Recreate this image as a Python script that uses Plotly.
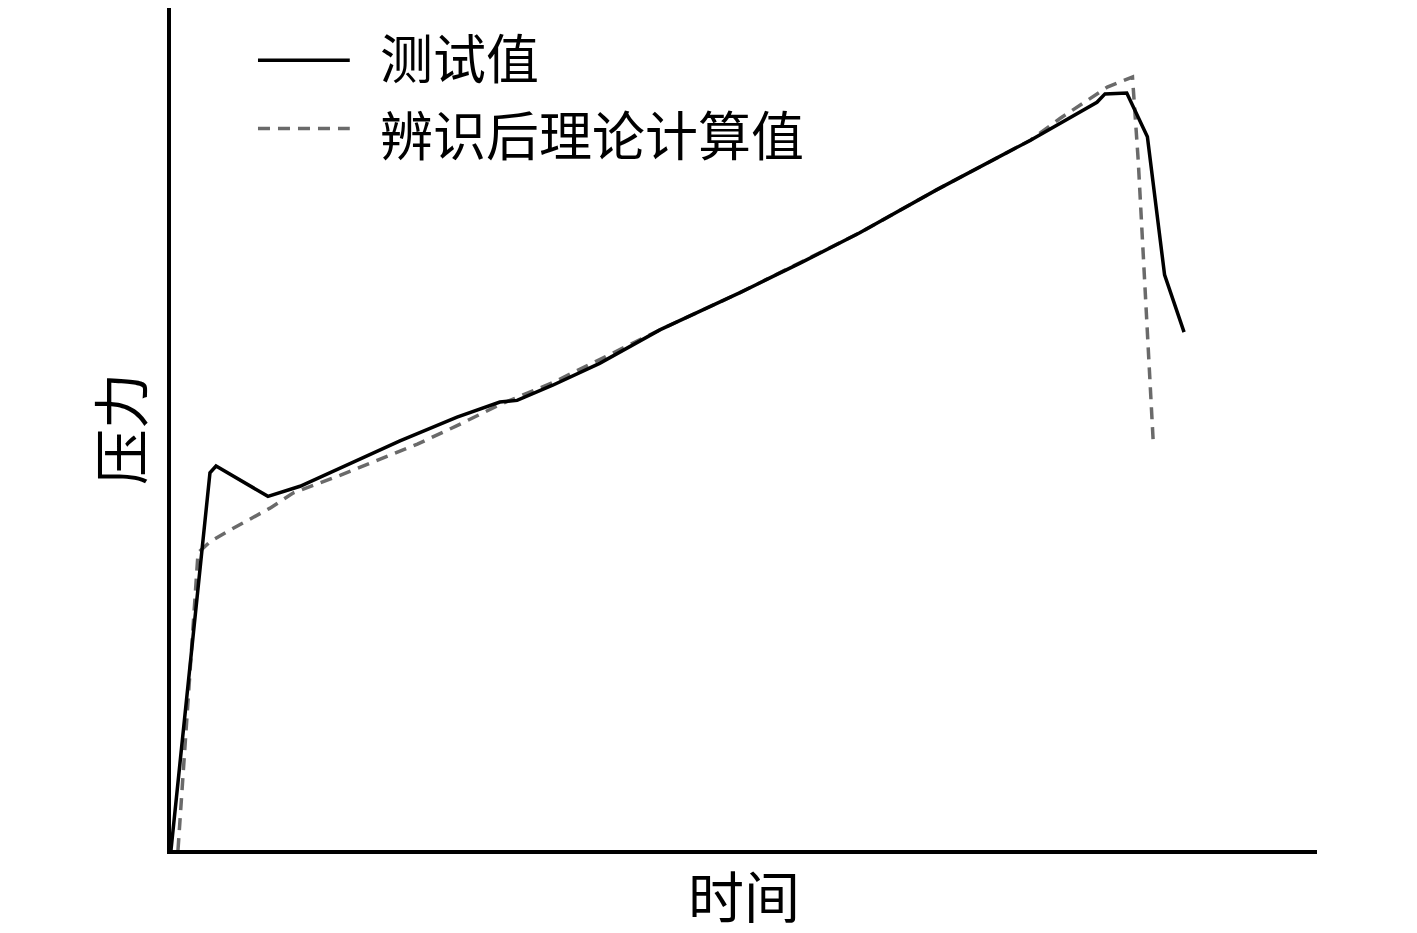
import plotly.graph_objects as go

# 测试值 (measured)
test_time = [0, 3.40, 3.93, 8.46, 11.26, 14.75, 19.98, 24.96, 28.7, 30.2, 33.3, 37.4,
             42.7, 49.65, 54.9, 60.1, 66.8, 75.0, 80.8, 81.5, 83.4, 85.2, 86.7, 88.4]
test_force = [0, 44.8, 45.6, 42.0, 43.2, 45.4, 48.6, 51.4, 53.2, 53.4, 55.2, 57.8,
              61.8, 66.2, 69.7, 73.3, 78.4, 84.3, 88.8, 89.8, 89.9, 84.7, 68.3, 61.5]

# 辨识后理论计算值 (identified theoretical)
calc_time = [0.61, 2.36, 3.40, 5.15, 8.64, 10.65, 14.75, 21.5, 24.96, 28.7, 33.3,
             42.7, 49.65, 60.1, 66.8, 75.0, 77.6, 81.7, 83.9, 84.4, 85.7]
calc_force = [0, 35.3, 36.6, 38.0, 40.6, 42.4, 44.5, 48.2, 50.4, 52.9, 55.5,
              61.8, 66.2, 73.3, 78.4, 84.3, 86.9, 90.6, 91.8, 81.9, 48.7]

legend_names = ["测试值", "辨识后理论计算值"]
x_title = "时间"
y_title = "压力"

FONT = "Noto Sans CJK SC"
GRAY = "#6a6a6a"
DASH = "12px,8px"

fig = go.Figure()
fig.add_trace(go.Scatter(x=calc_time, y=calc_force, mode="lines", name=legend_names[1],
                         line=dict(color=GRAY, width=3.5, dash=DASH)))
fig.add_trace(go.Scatter(x=test_time, y=test_force, mode="lines", name=legend_names[0],
                         line=dict(color="black", width=3.5)))

# manual legend (sample lines + texts)
leg_x0, leg_x1, leg_tx = 0.0759, 0.156, 0.1806
line_y = [0.938, 0.857]
text_y = [0.943, 0.8515]
styles = [dict(color="black", width=3.5), dict(color=GRAY, width=3.5, dash=DASH)]
for name, ly, ty, st in zip(legend_names, line_y, text_y, styles):
    fig.add_shape(type="line", xref="paper", yref="paper", x0=leg_x0, x1=leg_x1,
                  y0=ly, y1=ly, line=st)
    fig.add_annotation(xref="paper", yref="paper", x=leg_tx, y=ty, text=name,
                       showarrow=False, xanchor="left", yanchor="middle",
                       font=dict(family=FONT, size=53, color="black"))

fig.update_layout(
    width=1417, height=933,
    margin=dict(l=163, r=108, t=0, b=91),
    plot_bgcolor="white", paper_bgcolor="white",
    showlegend=False,
    font=dict(family=FONT, color="black"),
)
fig.update_xaxes(range=[0, 100], showgrid=False, zeroline=False, showticklabels=False,
                 ticks="", showline=True, linecolor="black", linewidth=3.5,
                 title=dict(text=x_title, font=dict(family=FONT, size=56), standoff=27))
fig.update_yaxes(range=[0, 100], showgrid=False, zeroline=False, showticklabels=False,
                 ticks="", showline=True, linecolor="black", linewidth=3.5,
                 title=dict(text=y_title, font=dict(family=FONT, size=56), standoff=8))

fig.write_html("out.html")
